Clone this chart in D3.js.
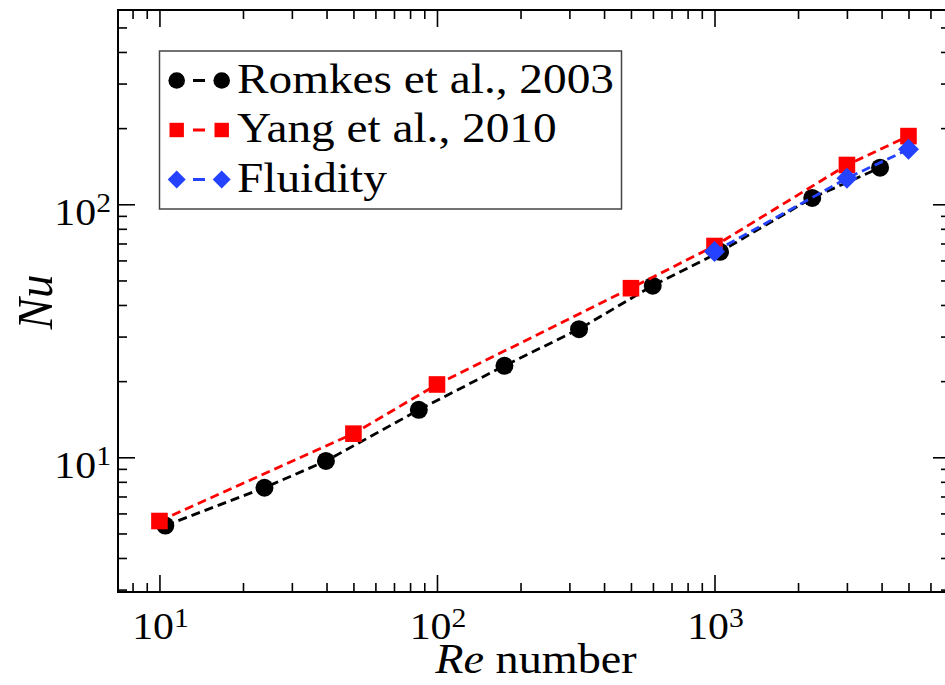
<!DOCTYPE html>
<html lang="en">
<head>
    <meta charset="UTF-8">
    <title>Nu vs Re</title>
    <script src="https://d3js.org/d3.v7.min.js"></script>
    <style>
        body { margin: 0; background: #fff; }
        svg { display: block; }
    </style>
</head>
<body>
    <svg id="chart" width="945" height="685"></svg>
    <script>
        // data
        const romkesRe = [10.5, 23.9, 39.8, 86, 175, 325, 599, 1047, 2250, 3950];
        const romkesNu = [5.37, 7.58, 9.67, 15.4, 23.0, 32.1, 47.7, 64.9, 106, 139.5];

        const yangRe = [10, 50, 100, 500, 1000, 3000, 5000];
        const yangNu = [5.6, 12.4, 19.4, 46.6, 68.4, 143, 186];

        const fluidityRe = [1000, 3000, 5000];
        const fluidityNu = [65, 126.7, 165];

        const seriesNames = ["Romkes et al., 2003", "Yang et al., 2010", "Fluidity"];
        const seriesColors = ["#000000", "#ff0000", "#2442ff"];
        const seriesShapes = ["circle", "square", "diamond"];

        const xMajor = [10, 100, 1000];
        const xMinor = [8, 9, 20, 30, 40, 50, 60, 70, 80, 90, 200, 300, 400, 500, 600, 700, 800, 900, 2000, 3000, 4000, 5000, 6000, 7000];
        const yMajor = [10, 100];
        const yMinor = [3, 4, 5, 6, 7, 8, 9, 20, 30, 40, 50, 60, 70, 80, 90, 200, 300, 400, 500];
        const xTickExp = ["1", "2", "3"];
        const yTickExp = ["1", "2"];

        const xDomain = [7.09, 7056];
        const yDomain = [2.935, 586];

        const serif = "Liberation Serif";
        // the source picture is stretched sideways, so text gets the same stretch
        const sx = 1.1;

        const svg = d3.select("#chart");
        svg.append("rect").attr("width", 945).attr("height", 685).attr("fill", "#fff");

        const pLeft = 118, pRight = 950, pTop = 10, pBottom = 592;
        const x = d3.scaleLog().domain(xDomain).range([pLeft, pRight]);
        const y = d3.scaleLog().domain(yDomain).range([pBottom, pTop]);

        // ticks on all four sides, pointing inward
        function addAxis(axisFn, scale, values, size, tx, ty) {
            const g = svg.append("g")
                .attr("transform", `translate(${tx},${ty})`)
                .call(axisFn(scale).tickValues(values).tickSizeInner(size).tickSizeOuter(0).tickFormat(""));
            g.select(".domain").remove();
            g.selectAll("line").attr("stroke", "#000").attr("stroke-width", 1.6);
        }
        addAxis(d3.axisBottom, x, xMajor, -17, 0, pBottom);
        addAxis(d3.axisBottom, x, xMinor, -9, 0, pBottom);
        addAxis(d3.axisTop, x, xMajor, -17, 0, pTop);
        addAxis(d3.axisTop, x, xMinor, -9, 0, pTop);
        addAxis(d3.axisLeft, y, yMajor, -17, pLeft, 0);
        addAxis(d3.axisLeft, y, yMinor, -9, pLeft, 0);
        addAxis(d3.axisRight, y, yMajor, -17, pRight, 0);
        addAxis(d3.axisRight, y, yMinor, -9, pRight, 0);

        svg.append("rect")
            .attr("x", pLeft).attr("y", pTop)
            .attr("width", pRight - pLeft).attr("height", pBottom - pTop)
            .attr("fill", "none").attr("stroke", "#000").attr("stroke-width", 2);

        // tick labels 10^n
        xMajor.forEach((v, i) => {
            const t = svg.append("text")
                .attr("transform", `translate(${x(v) + 1},639) scale(${sx},1)`)
                .attr("text-anchor", "middle")
                .attr("font-family", serif)
                .attr("font-size", 38);
            t.append("tspan").text("10");
            t.append("tspan").attr("dy", -12).attr("font-size", 27).text(xTickExp[i]);
        });
        yMajor.forEach((v, i) => {
            const t = svg.append("text")
                .attr("transform", `translate(111,${y(v) + 21}) scale(${sx},1)`)
                .attr("text-anchor", "end")
                .attr("font-family", serif)
                .attr("font-size", 38);
            t.append("tspan").text("10");
            t.append("tspan").attr("dy", -13).attr("font-size", 27).text(yTickExp[i]);
        });

        // axis titles
        const xt = svg.append("text")
            .attr("transform", `translate(536,673) scale(${sx},1)`)
            .attr("text-anchor", "middle")
            .attr("font-family", serif)
            .attr("font-size", 42);
        xt.append("tspan").attr("font-style", "italic").text("Re");
        xt.append("tspan").text(" number");

        svg.append("text")
            .attr("transform", `translate(52,302) scale(${sx},1) rotate(-90)`)
            .attr("text-anchor", "middle")
            .attr("font-family", serif)
            .attr("font-size", 47)
            .attr("font-style", "italic")
            .text("Nu");

        // markers
        function drawMarker(g, shape, cx, cy, s, color) {
            if (shape === "circle") {
                g.append("circle").attr("cx", cx).attr("cy", cy).attr("r", s).attr("fill", color);
            } else if (shape === "square") {
                g.append("rect").attr("x", cx - s).attr("y", cy - s)
                    .attr("width", 2 * s).attr("height", 2 * s).attr("fill", color);
            } else {
                g.append("path")
                    .attr("d", `M${cx},${cy - s}L${cx + s},${cy}L${cx},${cy + s}L${cx - s},${cy}Z`)
                    .attr("fill", color);
            }
        }

        const series = [
            { re: romkesRe, nu: romkesNu },
            { re: yangRe, nu: yangNu },
            { re: fluidityRe, nu: fluidityNu }
        ];
        const markerSize = [9, 8.3, 10.5];

        const line = d3.line().x(d => x(d[0])).y(d => y(d[1]));

        series.forEach((s, i) => {
            const pts = s.re.map((r, j) => [r, s.nu[j]]);
            const g = svg.append("g");
            g.append("path")
                .attr("d", line(pts))
                .attr("fill", "none")
                .attr("stroke", seriesColors[i])
                .attr("stroke-width", 2.8)
                .attr("stroke-dasharray", "9,5");
            pts.forEach(p => drawMarker(g, seriesShapes[i], x(p[0]), y(p[1]), markerSize[i], seriesColors[i]));
        });

        // legend
        const lg = svg.append("g");
        lg.append("rect")
            .attr("x", 159.5).attr("y", 51)
            .attr("width", 462).attr("height", 158)
            .attr("fill", "#fff").attr("stroke", "#444").attr("stroke-width", 1.5);
        const legendMarker = [8.3, 7.2, 9];
        seriesNames.forEach((name, i) => {
            const base = 92.5 + i * 49.5;
            const cy = base - 12;
            lg.append("line")
                .attr("x1", 176.7).attr("x2", 221.7).attr("y1", cy).attr("y2", cy)
                .attr("stroke", seriesColors[i]).attr("stroke-width", 2.8)
                .attr("stroke-dasharray", "12,10").attr("stroke-dashoffset", 5.7);
            drawMarker(lg, seriesShapes[i], 176.7, cy, legendMarker[i], seriesColors[i]);
            drawMarker(lg, seriesShapes[i], 221.7, cy, legendMarker[i], seriesColors[i]);
            lg.append("text")
                .attr("transform", `translate(237,${base}) scale(${sx},1)`)
                .attr("font-family", serif)
                .attr("font-size", 43)
                .text(name);
        });
    </script>
</body>
</html>
